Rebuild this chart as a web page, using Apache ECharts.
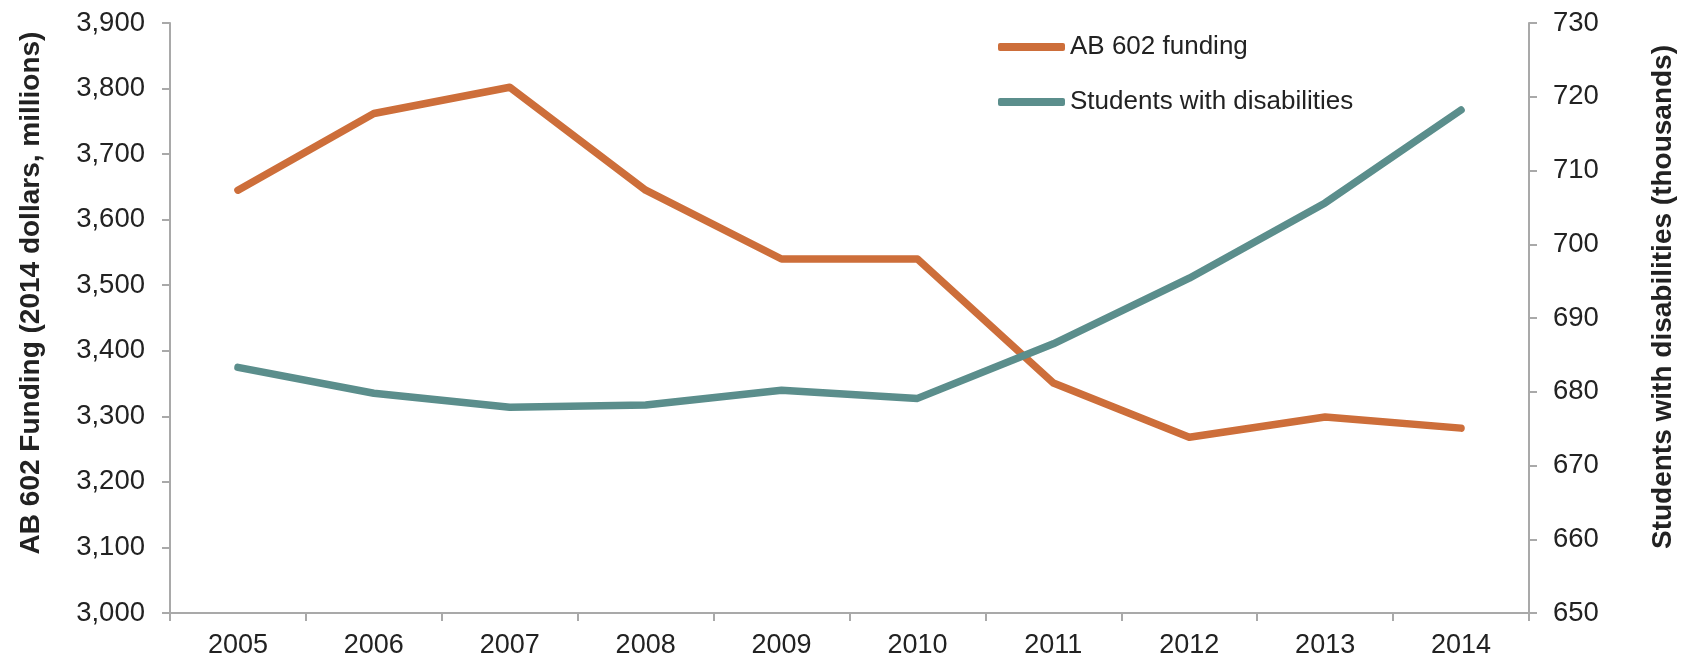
<!DOCTYPE html>
<html>
<head>
<meta charset="utf-8">
<script src="https://cdn.jsdelivr.net/npm/echarts@6/dist/echarts.min.js"></script>
<style>
html,body{margin:0;padding:0;background:#fff;}
#chart{width:1687px;height:660px;}
</style>
</head>
<body>
<div id="chart"></div>
<script>
const years = ['2005','2006','2007','2008','2009','2010','2011','2012','2013','2014'];
const funding = [3645, 3762, 3802, 3645, 3540, 3540, 3351, 3268, 3299, 3282];
const students = [683.3, 679.8, 677.9, 678.2, 680.2, 679.1, 686.5, 695.4, 705.6, 718.2];
const seriesNames = ['AB 602 funding', 'Students with disabilities'];
const leftAxisName = 'AB 602 Funding (2014 dollars, millions)';
const rightAxisName = 'Students with disabilities (thousands)';

const ORANGE = '#CD6E3A';
const TEAL = '#5B8E8C';
const AXIS = '#A9A9A9';
const TXT = '#222';
const FONT = '"Liberation Sans", Arial, sans-serif';

const chart = echarts.init(document.getElementById('chart'), null, {renderer: 'canvas'});
chart.setOption({
  animation: false,
  backgroundColor: '#fff',
  textStyle: {fontFamily: FONT},
  grid: {left: 170, right: 158, top: 23, bottom: 47, containLabel: false},
  legend: {
    orient: 'vertical',
    left: 993,
    top: 29,
    itemWidth: 67,
    itemHeight: 8,
    itemGap: 29,
    icon: 'roundRect',
    textStyle: {fontSize: 26, color: TXT, fontFamily: FONT},
    data: seriesNames
  },
  graphic: [
    {
      type: 'text', x: 31, y: 293, rotation: Math.PI / 2,
      style: {text: leftAxisName, fill: TXT, font: 'bold 28px ' + FONT, align: 'center', verticalAlign: 'middle'}
    },
    {
      type: 'text', x: 1663, y: 297, rotation: Math.PI / 2,
      style: {text: rightAxisName, fill: TXT, font: 'bold 28px ' + FONT, align: 'center', verticalAlign: 'middle'}
    }
  ],
  xAxis: {
    type: 'category',
    data: years,
    boundaryGap: true,
    axisLine: {lineStyle: {color: AXIS, width: 2}},
    axisTick: {show: true, length: 8, lineStyle: {color: AXIS, width: 2}},
    axisLabel: {fontSize: 27, color: TXT, margin: 19, fontFamily: FONT},
    splitLine: {show: false}
  },
  yAxis: [
    {
      type: 'value', min: 3000, max: 3900, interval: 100,
      axisLine: {show: true, lineStyle: {color: AXIS, width: 2}},
      axisTick: {show: true, length: 8, lineStyle: {color: AXIS, width: 2}},
      axisLabel: {fontSize: 27.5, color: TXT, margin: 25, fontFamily: FONT,
        formatter: v => v.toLocaleString('en-US')},
      splitLine: {show: false}
    },
    {
      type: 'value', min: 650, max: 730, interval: 10, position: 'right',
      axisLine: {show: true, lineStyle: {color: AXIS, width: 2}},
      axisTick: {show: true, length: 8, lineStyle: {color: AXIS, width: 2}},
      axisLabel: {fontSize: 27.5, color: TXT, margin: 24, fontFamily: FONT},
      splitLine: {show: false}
    }
  ],
  series: [
    {
      name: seriesNames[0], type: 'line', yAxisIndex: 0, data: funding,
      symbol: 'none', itemStyle: {color: ORANGE},
      lineStyle: {color: ORANGE, width: 7.5, cap: 'round', join: 'round'}
    },
    {
      name: seriesNames[1], type: 'line', yAxisIndex: 1, data: students,
      symbol: 'none', itemStyle: {color: TEAL},
      lineStyle: {color: TEAL, width: 7.5, cap: 'round', join: 'round'}
    }
  ]
});
</script>
</body>
</html>
